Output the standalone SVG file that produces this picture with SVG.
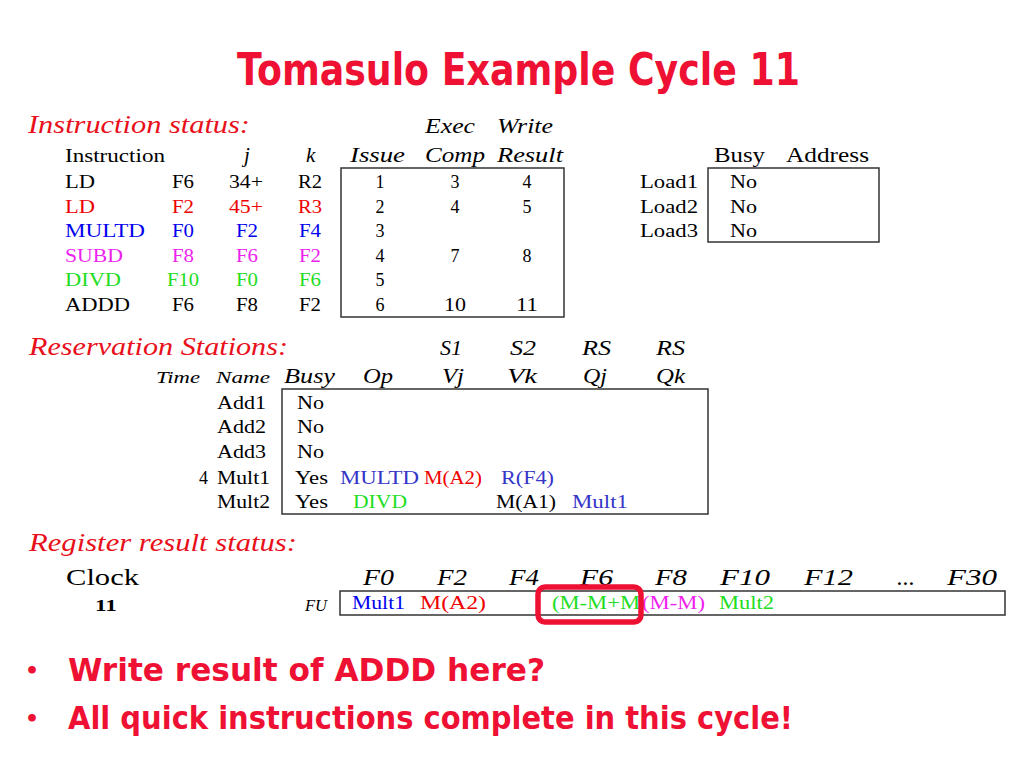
<svg xmlns="http://www.w3.org/2000/svg" width="1024" height="768" viewBox="0 0 1024 768">
<style>
text{font-family:"Liberation Serif","Times New Roman",serif;}
.t{font-family:"DejaVu Sans","Liberation Sans",sans-serif;font-weight:bold;fill:#EE1133;}
.sec{font-style:italic;font-size:25px;fill:#E8101A;}
.b{font-size:18px;fill:#000;}
.hi{font-style:italic;font-size:21px;fill:#000;}
.hu{font-size:21px;fill:#000;}
.sm{font-style:italic;font-size:17px;fill:#000;}
.c{text-anchor:middle;}
.red{fill:#EE0000;}
.blue{fill:#0000EE;}
.blue2{fill:#3535C8;}
.mag{fill:#EE22EE;}
.grn{fill:#22DD22;}
.box{fill:none;stroke:#333;stroke-width:1.5;}
.reg{font-size:18px;}
.rh{font-style:italic;font-size:23px;fill:#000;}
</style>
<rect width="1024" height="768" fill="#fff"/>
<g id="title">
<text class="t" x="237" y="85" font-size="44" textLength="563" lengthAdjust="spacingAndGlyphs">Tomasulo Example Cycle 11</text>
</g>
<g id="instruction-status">
<text class="sec" x="28" y="133" textLength="222" lengthAdjust="spacingAndGlyphs">Instruction status:</text>
<text class="hi" x="425" y="133" textLength="50" lengthAdjust="spacingAndGlyphs">Exec</text>
<text class="hi" x="497" y="133" textLength="56" lengthAdjust="spacingAndGlyphs">Write</text>
<text class="b" x="65" y="162" textLength="100" lengthAdjust="spacingAndGlyphs">Instruction</text>
<text class="hi" x="244" y="162" font-size="19">j</text>
<text class="hi" x="306" y="162" font-size="19">k</text>
<text class="hi" x="350" y="162" textLength="55" lengthAdjust="spacingAndGlyphs">Issue</text>
<text class="hi" x="425" y="162" textLength="60" lengthAdjust="spacingAndGlyphs">Comp</text>
<text class="hi" x="497" y="162" textLength="66" lengthAdjust="spacingAndGlyphs">Result</text>
<rect class="box" x="341" y="168" width="223" height="149"/>
<g class="b">
<text x="65" y="188" textLength="30" lengthAdjust="spacingAndGlyphs">LD</text>
<text class="c" x="183" y="188" textLength="22" lengthAdjust="spacingAndGlyphs">F6</text>
<text class="c" x="246" y="188" textLength="34" lengthAdjust="spacingAndGlyphs">34+</text>
<text class="c" x="310" y="188" textLength="24" lengthAdjust="spacingAndGlyphs">R2</text>
<text class="c" x="380" y="188">1</text>
<text class="c" x="455" y="188">3</text>
<text class="c" x="527" y="188">4</text>
</g>
<g class="b red">
<text x="65" y="213" textLength="30" lengthAdjust="spacingAndGlyphs">LD</text>
<text class="c" x="183" y="213" textLength="22" lengthAdjust="spacingAndGlyphs">F2</text>
<text class="c" x="246" y="213" textLength="34" lengthAdjust="spacingAndGlyphs">45+</text>
<text class="c" x="310" y="213" textLength="24" lengthAdjust="spacingAndGlyphs">R3</text>
<text class="c" x="380" y="213" fill="#000">2</text>
<text class="c" x="455" y="213" fill="#000">4</text>
<text class="c" x="527" y="213" fill="#000">5</text>
</g>
<g class="b blue">
<text x="65" y="237" textLength="80" lengthAdjust="spacingAndGlyphs">MULTD</text>
<text class="c" x="183" y="237" textLength="22" lengthAdjust="spacingAndGlyphs">F0</text>
<text class="c" x="247" y="237" textLength="22" lengthAdjust="spacingAndGlyphs">F2</text>
<text class="c" x="310" y="237" textLength="22" lengthAdjust="spacingAndGlyphs">F4</text>
<text class="c" x="380" y="237" fill="#000">3</text>
</g>
<g class="b mag">
<text x="65" y="262" textLength="58" lengthAdjust="spacingAndGlyphs">SUBD</text>
<text class="c" x="183" y="262" textLength="22" lengthAdjust="spacingAndGlyphs">F8</text>
<text class="c" x="247" y="262" textLength="22" lengthAdjust="spacingAndGlyphs">F6</text>
<text class="c" x="310" y="262" textLength="22" lengthAdjust="spacingAndGlyphs">F2</text>
<text class="c" x="380" y="262" fill="#000">4</text>
<text class="c" x="455" y="262" fill="#000">7</text>
<text class="c" x="527" y="262" fill="#000">8</text>
</g>
<g class="b grn">
<text x="65" y="286" textLength="56" lengthAdjust="spacingAndGlyphs">DIVD</text>
<text class="c" x="183" y="286" textLength="32" lengthAdjust="spacingAndGlyphs">F10</text>
<text class="c" x="247" y="286" textLength="22" lengthAdjust="spacingAndGlyphs">F0</text>
<text class="c" x="310" y="286" textLength="22" lengthAdjust="spacingAndGlyphs">F6</text>
<text class="c" x="380" y="286" fill="#000">5</text>
</g>
<g class="b">
<text x="65" y="311" textLength="65" lengthAdjust="spacingAndGlyphs">ADDD</text>
<text class="c" x="183" y="311" textLength="22" lengthAdjust="spacingAndGlyphs">F6</text>
<text class="c" x="247" y="311" textLength="22" lengthAdjust="spacingAndGlyphs">F8</text>
<text class="c" x="310" y="311" textLength="22" lengthAdjust="spacingAndGlyphs">F2</text>
<text class="c" x="380" y="311">6</text>
<text class="c" x="455" y="311" textLength="22" lengthAdjust="spacingAndGlyphs">10</text>
<text class="c" x="527" y="311" textLength="22" lengthAdjust="spacingAndGlyphs">11</text>
</g>
</g>
<g id="load-buffers">
<text class="hu" x="714" y="162" textLength="51" lengthAdjust="spacingAndGlyphs">Busy</text>
<text class="hu" x="786" y="162" textLength="83" lengthAdjust="spacingAndGlyphs">Address</text>
<rect class="box" x="708" y="168" width="171" height="74"/>
<g class="b">
<text x="640" y="188" textLength="58" lengthAdjust="spacingAndGlyphs">Load1</text>
<text x="640" y="213" textLength="58" lengthAdjust="spacingAndGlyphs">Load2</text>
<text x="640" y="237" textLength="58" lengthAdjust="spacingAndGlyphs">Load3</text>
<text x="730" y="188" textLength="27" lengthAdjust="spacingAndGlyphs">No</text>
<text x="730" y="213" textLength="27" lengthAdjust="spacingAndGlyphs">No</text>
<text x="730" y="237" textLength="27" lengthAdjust="spacingAndGlyphs">No</text>
</g>
</g>
<g id="reservation-stations">
<text class="sec" x="29" y="355" textLength="259" lengthAdjust="spacingAndGlyphs">Reservation Stations:</text>
<text class="hi" x="440" y="355" textLength="22" lengthAdjust="spacingAndGlyphs">S1</text>
<text class="hi" x="510" y="355" textLength="26" lengthAdjust="spacingAndGlyphs">S2</text>
<text class="hi" x="582" y="355" textLength="29" lengthAdjust="spacingAndGlyphs">RS</text>
<text class="hi" x="656" y="355" textLength="29" lengthAdjust="spacingAndGlyphs">RS</text>
<text class="sm" x="156" y="383" textLength="44" lengthAdjust="spacingAndGlyphs">Time</text>
<text class="sm" x="216" y="383" textLength="54" lengthAdjust="spacingAndGlyphs">Name</text>
<text class="hi" x="284" y="383" textLength="51" lengthAdjust="spacingAndGlyphs">Busy</text>
<text class="hi" x="363" y="383" textLength="30" lengthAdjust="spacingAndGlyphs">Op</text>
<text class="hi" x="442" y="383" textLength="22" lengthAdjust="spacingAndGlyphs">Vj</text>
<text class="hi" x="507" y="383" textLength="30" lengthAdjust="spacingAndGlyphs">Vk</text>
<text class="hi" x="583" y="383" textLength="24" lengthAdjust="spacingAndGlyphs">Qj</text>
<text class="hi" x="656" y="383" textLength="29" lengthAdjust="spacingAndGlyphs">Qk</text>
<rect class="box" x="282" y="389" width="426" height="125"/>
<g class="b">
<text x="217" y="409" textLength="49" lengthAdjust="spacingAndGlyphs">Add1</text>
<text x="217" y="433" textLength="49" lengthAdjust="spacingAndGlyphs">Add2</text>
<text x="217" y="458" textLength="49" lengthAdjust="spacingAndGlyphs">Add3</text>
<text x="199" y="484">4</text>
<text x="217" y="484" textLength="53" lengthAdjust="spacingAndGlyphs">Mult1</text>
<text x="217" y="508" textLength="53" lengthAdjust="spacingAndGlyphs">Mult2</text>
<text x="297" y="409" textLength="27" lengthAdjust="spacingAndGlyphs">No</text>
<text x="297" y="433" textLength="27" lengthAdjust="spacingAndGlyphs">No</text>
<text x="297" y="458" textLength="27" lengthAdjust="spacingAndGlyphs">No</text>
<text x="295" y="484" textLength="33" lengthAdjust="spacingAndGlyphs">Yes</text>
<text x="295" y="508" textLength="33" lengthAdjust="spacingAndGlyphs">Yes</text>
<text class="blue2" x="340" y="484" textLength="79" lengthAdjust="spacingAndGlyphs">MULTD</text>
<text class="red" x="424" y="484" textLength="58" lengthAdjust="spacingAndGlyphs">M(A2)</text>
<text class="blue2" x="501" y="484" textLength="53" lengthAdjust="spacingAndGlyphs">R(F4)</text>
<text class="grn" x="353" y="508" textLength="54" lengthAdjust="spacingAndGlyphs">DIVD</text>
<text x="496" y="508" textLength="60" lengthAdjust="spacingAndGlyphs">M(A1)</text>
<text class="blue2" x="572" y="508" textLength="56" lengthAdjust="spacingAndGlyphs">Mult1</text>
</g>
</g>
<g id="register-result-status">
<text class="sec" x="29" y="551" textLength="268" lengthAdjust="spacingAndGlyphs">Register result status:</text>
<text x="66" y="585" font-size="24" textLength="73" lengthAdjust="spacingAndGlyphs">Clock</text>
<text class="rh" x="363" y="585" textLength="31" lengthAdjust="spacingAndGlyphs">F0</text>
<text class="rh" x="437" y="585" textLength="30" lengthAdjust="spacingAndGlyphs">F2</text>
<text class="rh" x="509" y="585" textLength="30" lengthAdjust="spacingAndGlyphs">F4</text>
<text class="rh" x="580" y="585" textLength="33" lengthAdjust="spacingAndGlyphs">F6</text>
<text class="rh" x="655" y="585" textLength="32" lengthAdjust="spacingAndGlyphs">F8</text>
<text class="rh" x="720" y="585" textLength="50" lengthAdjust="spacingAndGlyphs">F10</text>
<text class="rh" x="804" y="585" textLength="49" lengthAdjust="spacingAndGlyphs">F12</text>
<text class="rh" x="897" y="585" textLength="18" lengthAdjust="spacingAndGlyphs">...</text>
<text class="rh" x="947" y="585" textLength="50" lengthAdjust="spacingAndGlyphs">F30</text>
<text x="95" y="611" font-size="17" font-weight="bold" textLength="22" lengthAdjust="spacingAndGlyphs">11</text>
<text class="sm" x="305" y="611" font-size="18" textLength="22" lengthAdjust="spacingAndGlyphs">FU</text>
<rect class="box" x="340" y="591" width="665" height="24"/>
<g class="reg">
<text class="blue" x="352" y="609" textLength="53" lengthAdjust="spacingAndGlyphs">Mult1</text>
<text class="red" x="420" y="609" textLength="66" lengthAdjust="spacingAndGlyphs">M(A2)</text>
<text class="grn" x="552" y="609" textLength="88" lengthAdjust="spacingAndGlyphs">(M-M+M</text>
<text class="mag" x="642" y="609" textLength="63" lengthAdjust="spacingAndGlyphs">(M-M)</text>
<text class="grn" x="719" y="609" textLength="55" lengthAdjust="spacingAndGlyphs">Mult2</text>
</g>
<rect x="538" y="587" width="103" height="35" rx="7" fill="none" stroke="#EE1133" stroke-width="5.5"/>
</g>
<g id="bullets">
<text class="t" x="25" y="678" font-size="22">•</text>
<text class="t" x="68" y="681" font-size="32" textLength="477" lengthAdjust="spacingAndGlyphs">Write result of ADDD here?</text>
<text class="t" x="25" y="726" font-size="22">•</text>
<text class="t" x="68" y="729" font-size="32" textLength="725" lengthAdjust="spacingAndGlyphs">All quick instructions complete in this cycle!</text>
</g>
</svg>
